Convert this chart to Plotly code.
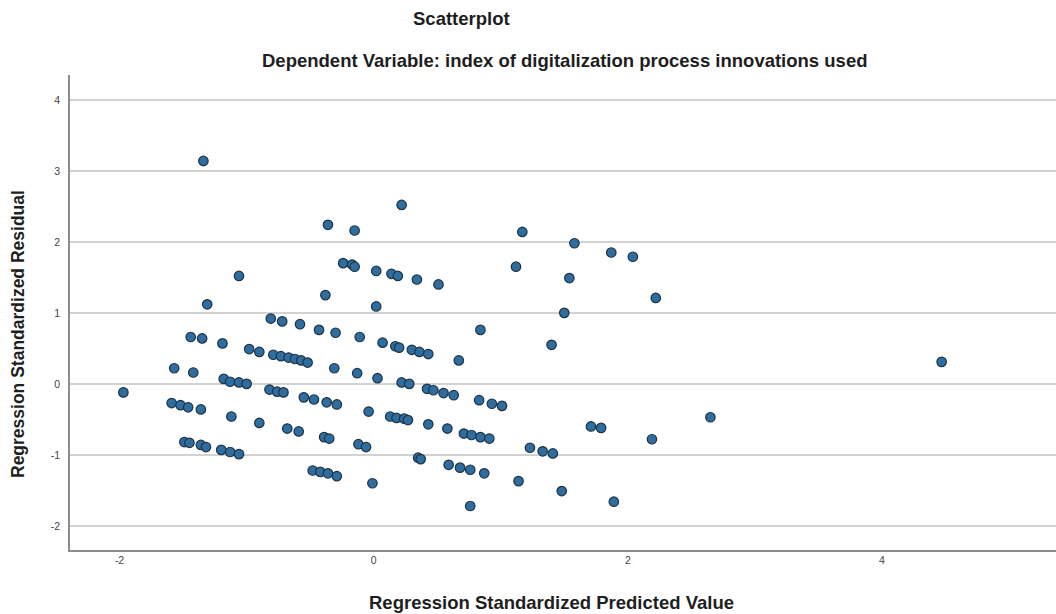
import plotly.graph_objects as go

# Regression standardized predicted values (x) and residuals (y)
pred = [
    -1.34, 0.22, -0.36, -0.15, -0.24, -0.17, -0.15, 0.02, 0.14, 0.19, -1.06, -0.38, 0.02, -1.31,
    -0.81, -0.72, -0.58, -0.43, -0.30, -0.11, 0.07,
    -1.44, -1.35, -1.19, -0.98, -0.90, -0.79, -0.73, -0.67, -0.62, -0.57, -0.52, -0.31, -0.13, 0.03,
    -1.57, -1.42, -1.18, -1.13, -1.06, -1.00, -1.97,
    -0.82, -0.76, -0.71, -0.55, -0.47, -0.37, -0.29, -0.04, 0.13, 0.18,
    -1.59, -1.52, -1.46, -1.36, -1.12, -0.90, -0.68, -0.59, -0.39, -0.35, -0.12, -0.06,
    -1.49, -1.45, -1.36, -1.32, -1.20, -1.13, -1.06,
    -0.48, -0.42, -0.36, -0.29, -0.01,
    1.17, 1.58, 1.87, 2.04, 1.12, 1.54, 2.22, 1.50, 0.34, 0.51, 0.84,
    0.17, 0.20, 0.30, 0.36, 0.43, 1.40, 0.67,
    0.22, 0.28, 0.42, 0.47, 0.55, 0.63, 0.83, 0.93, 1.01,
    0.24, 0.27, 0.43, 0.58, 0.71, 0.77, 0.84, 0.91,
    1.71, 1.79, 2.19, 1.23, 1.33, 1.41,
    0.35, 0.37, 0.59, 0.68, 0.76, 0.87, 1.14, 1.48, 1.89, 0.76,
    4.47, 2.65,
]
resid = [
    3.14, 2.52, 2.24, 2.16, 1.70, 1.68, 1.65, 1.59, 1.55, 1.52, 1.52, 1.25, 1.09, 1.12,
    0.92, 0.88, 0.84, 0.76, 0.72, 0.66, 0.58,
    0.66, 0.64, 0.57, 0.49, 0.45, 0.41, 0.39, 0.37, 0.35, 0.33, 0.30, 0.22, 0.15, 0.08,
    0.22, 0.16, 0.07, 0.03, 0.02, 0.00, -0.12,
    -0.08, -0.11, -0.12, -0.19, -0.22, -0.26, -0.29, -0.39, -0.46, -0.48,
    -0.27, -0.30, -0.33, -0.36, -0.46, -0.55, -0.63, -0.67, -0.75, -0.77, -0.85, -0.89,
    -0.82, -0.83, -0.86, -0.89, -0.93, -0.96, -0.99,
    -1.22, -1.24, -1.26, -1.30, -1.40,
    2.14, 1.98, 1.85, 1.79, 1.65, 1.49, 1.21, 1.00, 1.47, 1.40, 0.76,
    0.53, 0.51, 0.48, 0.45, 0.42, 0.55, 0.33,
    0.02, 0.00, -0.07, -0.09, -0.13, -0.16, -0.23, -0.28, -0.31,
    -0.49, -0.51, -0.57, -0.63, -0.70, -0.72, -0.75, -0.77,
    -0.60, -0.62, -0.78, -0.90, -0.95, -0.98,
    -1.04, -1.06, -1.14, -1.18, -1.21, -1.26, -1.37, -1.51, -1.66, -1.72,
    0.31, -0.47,
]

x_ticks = [-2, 0, 2, 4]
y_ticks = [-2, -1, 0, 1, 2, 3, 4]

title_text = "<b>Scatterplot</b>"
subtitle_text = "<b>Dependent Variable: index of digitalization process innovations used</b>"
x_title = "<b>Regression Standardized Predicted Value</b>"
y_title = "<b>Regression Standardized Residual</b>"

font_family = "Liberation Sans, Arial, sans-serif"
W, H = 1056, 614
L, R, T, B = 70, 0, 75, 64
plot_w = W - L - R


def px_x(px):
    return (px - L) / plot_w


fig = go.Figure(
    go.Scatter(
        x=pred,
        y=resid,
        mode="markers",
        marker=dict(size=9.5, color="#2f6d9e", line=dict(color="#1d3447", width=1.2)),
        hoverinfo="x+y",
    )
)

title_font = dict(size=18.5, color="#1e1e1e", family=font_family)
fig.update_layout(
    width=W,
    height=H,
    margin=dict(l=L, r=R, t=T, b=B),
    paper_bgcolor="white",
    plot_bgcolor="white",
    showlegend=False,
    font=dict(family=font_family, color="#222222"),
    annotations=[
        dict(text=title_text, xref="paper", x=px_x(461), yref="paper", y=1, yshift=57,
             yanchor="middle", showarrow=False, font=title_font),
        dict(text=subtitle_text, xref="paper", x=px_x(564), yref="paper", y=1, yshift=15,
             yanchor="middle", showarrow=False, font=title_font),
        dict(text=x_title, xref="paper", x=px_x(551), yref="paper", y=0, yshift=-52,
             yanchor="middle", showarrow=False, font=title_font),
        dict(text=y_title, xref="paper", x=0, xshift=-52, xanchor="center", yref="paper",
             y=(H - B - 334) / (H - T - B), yanchor="middle", textangle=-90, showarrow=False,
             font=dict(size=17.5, color="#1e1e1e", family=font_family)),
    ],
)

fig.update_xaxes(
    range=[-2.39, 5.37],
    tickvals=x_ticks,
    ticktext=[str(t) for t in x_ticks],
    showgrid=False,
    zeroline=False,
    showline=True,
    linecolor="#8c8c8c",
    linewidth=1.5,
    ticks="",
    automargin=False,
    tickfont=dict(size=10.5, color="#444444"),
)
fig.update_yaxes(
    range=[-2.34, 4.35],
    tickvals=y_ticks,
    ticktext=[str(t) for t in y_ticks],
    showgrid=True,
    gridcolor="#d2d2d2",
    gridwidth=1.5,
    zeroline=False,
    showline=True,
    linecolor="#8c8c8c",
    linewidth=1.5,
    ticks="",
    automargin=False,
    ticklabelstandoff=6,
    tickfont=dict(size=10.5, color="#444444"),
)

fig.write_html(
    "out.html",
    config={"displayModeBar": False},
    post_script="document.body.style.margin='0';document.body.style.overflow='hidden';",
)
